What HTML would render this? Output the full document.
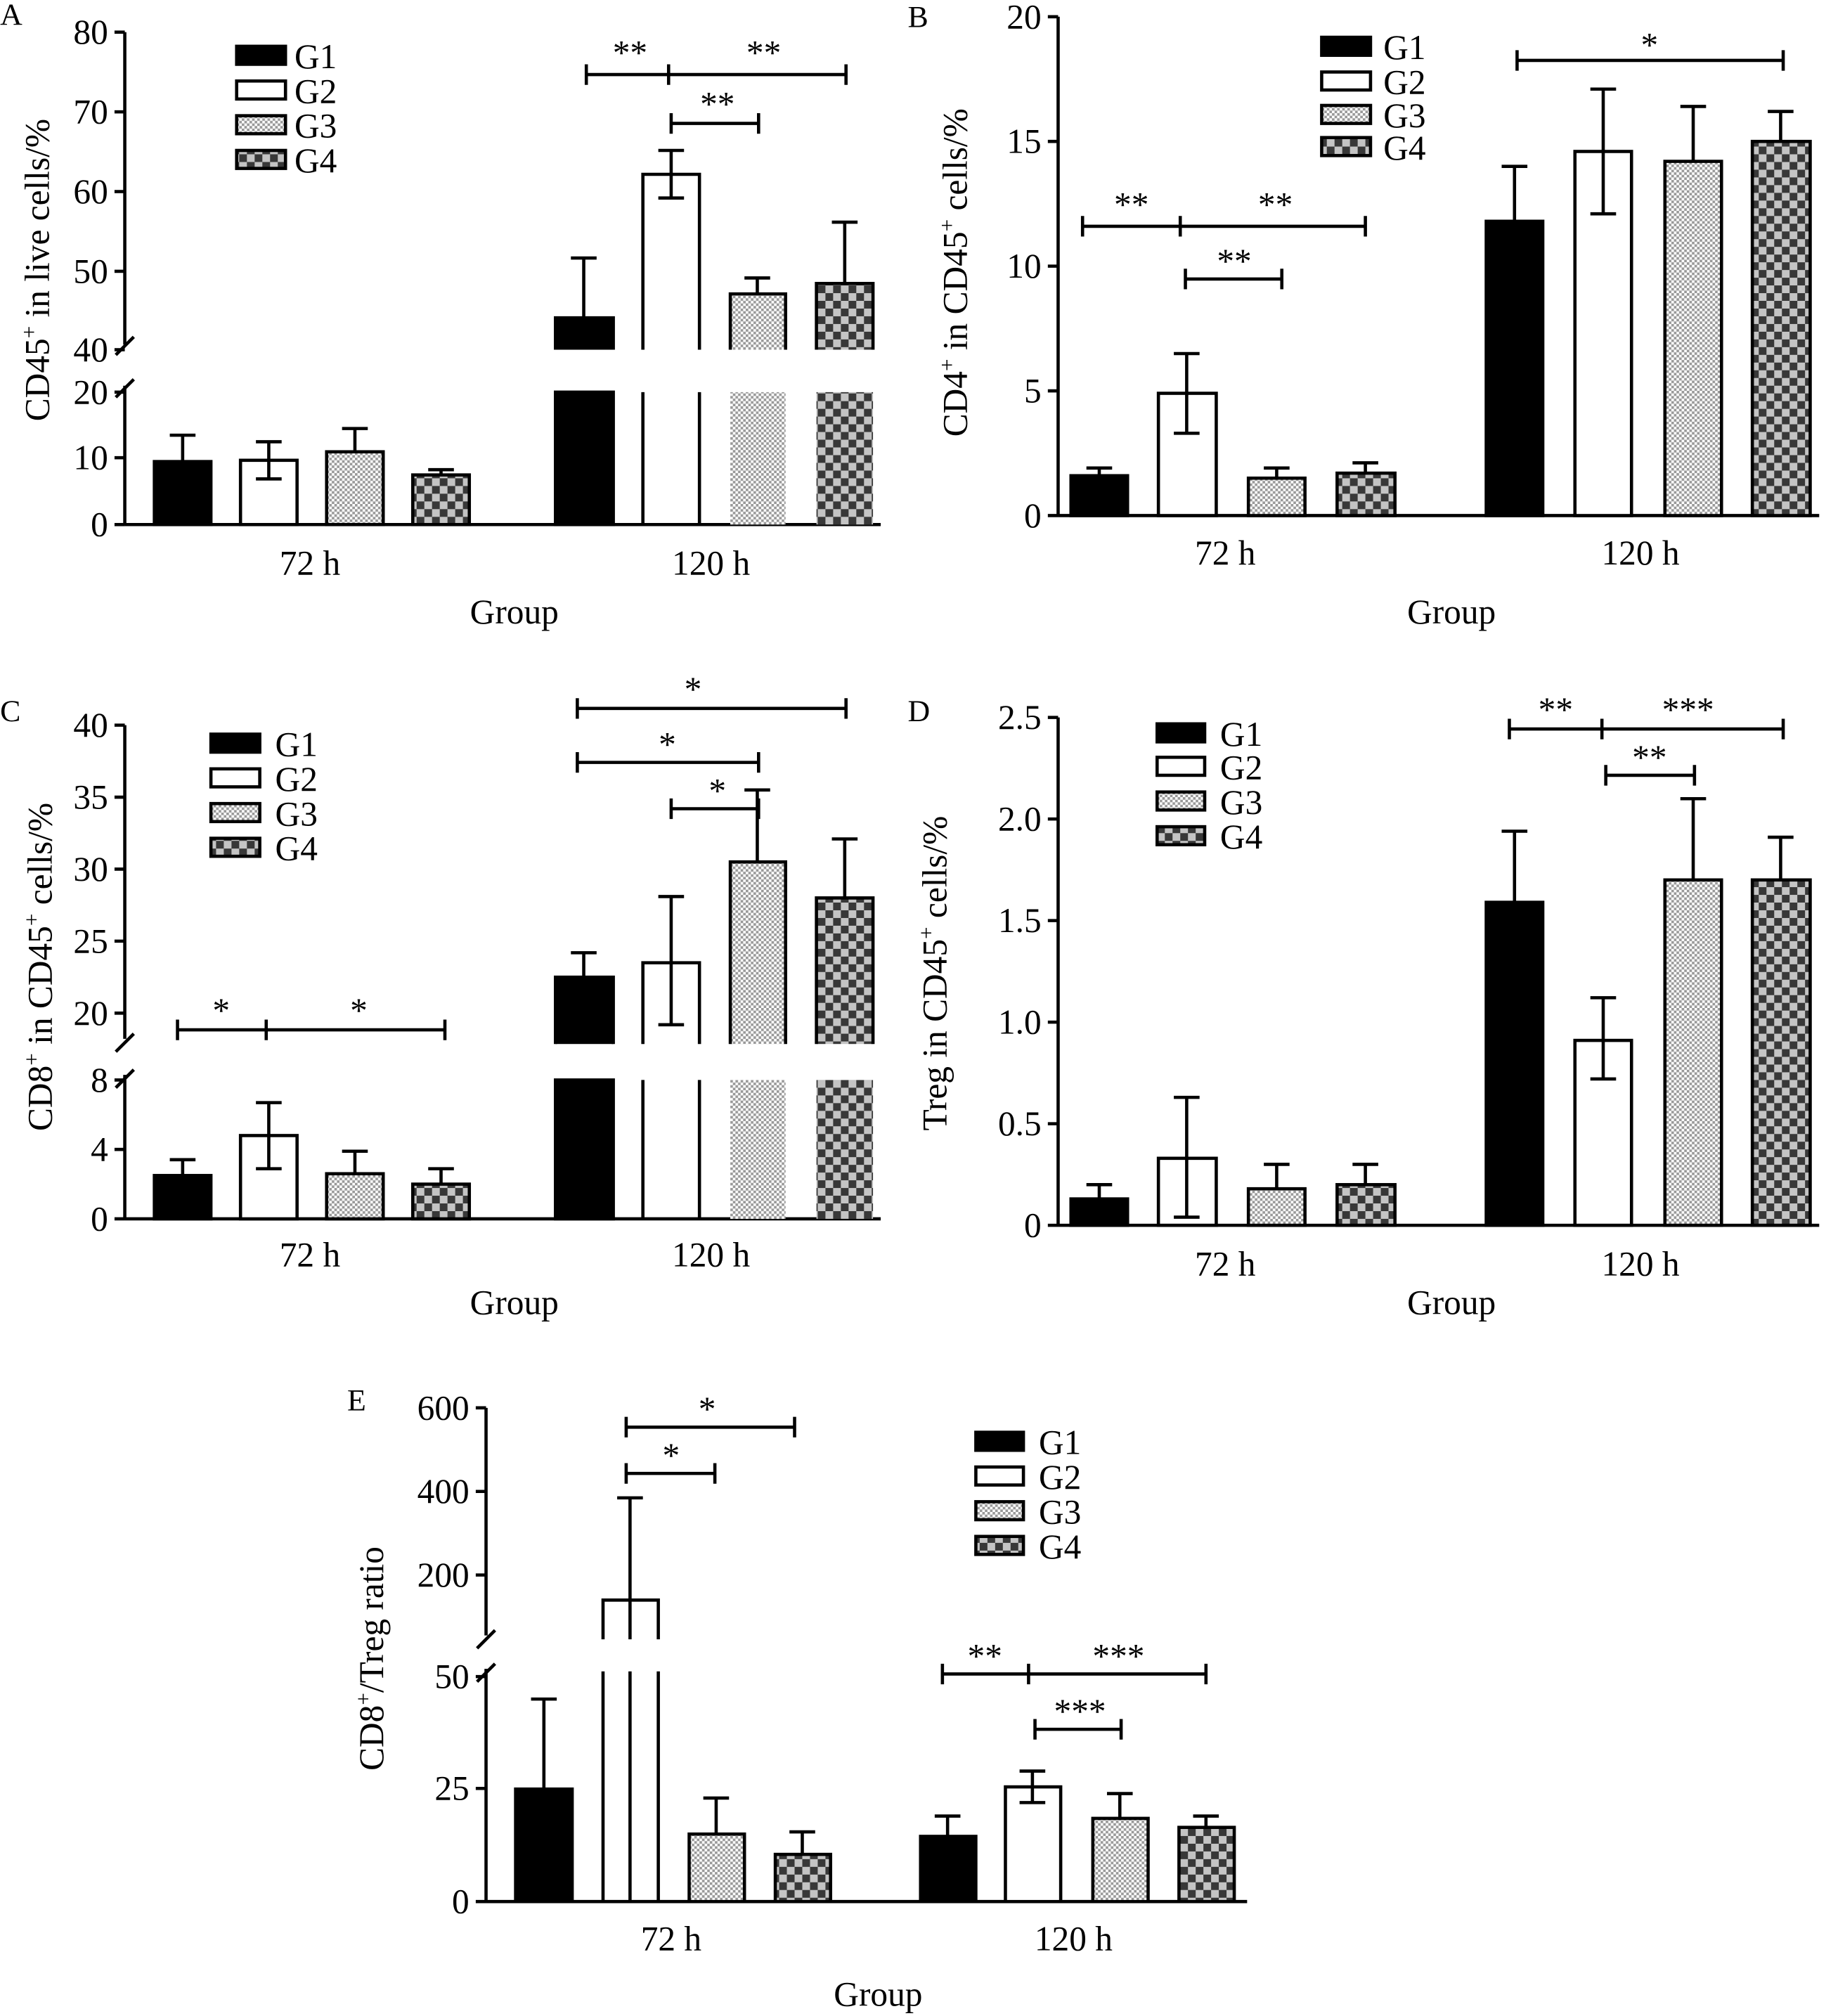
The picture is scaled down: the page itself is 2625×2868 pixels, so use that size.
<!DOCTYPE html>
<html><head><meta charset="utf-8"><style>html,body{margin:0;padding:0;background:#fff}svg{display:block}</style></head>
<body>
<svg width="2625" height="2868" viewBox="0 0 1435 1568" xmlns="http://www.w3.org/2000/svg" font-family="'Liberation Serif',serif" font-size="27">
<defs>
<pattern id="p3" width="4" height="4" patternUnits="userSpaceOnUse"><rect width="4" height="4" fill="#fff"/><rect width="2" height="2" fill="#999"/><rect x="2" y="2" width="2" height="2" fill="#999"/></pattern>
<pattern id="p4" width="12" height="12" patternUnits="userSpaceOnUse"><rect width="12" height="12" fill="#383838"/><rect width="6" height="6" fill="#c4c4c4"/><rect x="6" y="6" width="6" height="6" fill="#c4c4c4"/></pattern>
</defs>
<g stroke="#000" stroke-width="2.5">
<!-- ========== A ========== -->
<line x1="97" y1="25" x2="97" y2="268" fill="none"/><line x1="97" y1="300" x2="97" y2="408"/>
<line x1="90" y1="276" x2="104" y2="262"/><line x1="90" y1="309" x2="104" y2="295"/>
<line x1="97" y1="408" x2="685" y2="408"/>
<g><line x1="89" y1="25" x2="97" y2="25"/><line x1="89" y1="87" x2="97" y2="87"/><line x1="89" y1="149" x2="97" y2="149"/><line x1="89" y1="211" x2="97" y2="211"/><line x1="89" y1="272" x2="97" y2="272"/><line x1="89" y1="305" x2="97" y2="305"/><line x1="89" y1="356" x2="97" y2="356"/><line x1="89" y1="408" x2="97" y2="408"/></g>
<rect x="120" y="359" width="44" height="49" fill="#000"/><line x1="142" y1="359" x2="142" y2="338.5"/><line x1="132" y1="338.5" x2="152" y2="338.5"/>
<rect x="187" y="358" width="44" height="50" fill="#fff"/><line x1="209" y1="372.5" x2="209" y2="343.6"/><line x1="199" y1="343.6" x2="219" y2="343.6"/><line x1="199" y1="372.5" x2="219" y2="372.5"/>
<rect x="254" y="351.4" width="44" height="56.6" fill="url(#p3)"/><line x1="276" y1="351.4" x2="276" y2="333.3"/><line x1="266" y1="333.3" x2="286" y2="333.3"/>
<rect x="321" y="369.4" width="44" height="38.6" fill="url(#p4)"/><line x1="343" y1="369.4" x2="343" y2="365.3"/><line x1="333" y1="365.3" x2="353" y2="365.3"/>
<rect x="432" y="305" width="45" height="103" fill="#000"/><rect x="432" y="247.2" width="45" height="24.8" fill="#000" stroke="none"/><path d="M432 272V247.2H477V272" fill="none"/><line x1="454" y1="247" x2="454" y2="200.7"/><line x1="444" y1="200.7" x2="464" y2="200.7"/>
<line x1="500" y1="305" x2="500" y2="408"/><line x1="544" y1="305" x2="544" y2="408"/>
<path d="M500 272V135.6H544V272" fill="#fff"/><line x1="522" y1="154" x2="522" y2="117"/><line x1="512" y1="117" x2="532" y2="117"/><line x1="512" y1="154" x2="532" y2="154"/>
<rect x="568" y="305" width="43" height="103" fill="url(#p3)" stroke="none"/><rect x="568" y="228.6" width="43" height="43.4" fill="url(#p3)" stroke="none"/><path d="M568 272V228.6H611V272" fill="none"/><line x1="589" y1="228.6" x2="589" y2="216.2"/><line x1="579" y1="216.2" x2="599" y2="216.2"/>
<rect x="635" y="305" width="44" height="103" fill="url(#p4)" stroke="none"/><rect x="635" y="220.5" width="44" height="51.5" fill="url(#p4)" stroke="none"/><path d="M635 272V220.5H679V272" fill="none"/><line x1="657" y1="220.5" x2="657" y2="172.8"/><line x1="647" y1="172.8" x2="667" y2="172.8"/>
<path d="M456 50v16M456 58H520M520 50v16M520 58H658M658 50v16M522 88v16M522 96H590M590 88v16" fill="none"/>
<!-- ========== B ========== -->
<line x1="823" y1="13" x2="823" y2="401"/><line x1="823" y1="401" x2="1415" y2="401"/>
<path d="M815 13H823M815 110H823M815 207H823M815 304H823M815 401H823"/>
<rect x="833" y="370" width="44" height="31" fill="#000"/><line x1="855" y1="370" x2="855" y2="364"/><line x1="845" y1="364" x2="865" y2="364"/>
<rect x="901" y="305.9" width="45" height="95.1" fill="#fff"/><line x1="923" y1="337" x2="923" y2="275"/><line x1="913" y1="275" x2="933" y2="275"/><line x1="913" y1="337" x2="933" y2="337"/>
<rect x="971" y="371.9" width="44" height="29.1" fill="url(#p3)"/><line x1="993" y1="372" x2="993" y2="364"/><line x1="983" y1="364" x2="1003" y2="364"/>
<rect x="1040" y="368" width="45" height="33" fill="url(#p4)"/><line x1="1062" y1="368" x2="1062" y2="360"/><line x1="1052" y1="360" x2="1072" y2="360"/>
<rect x="1156" y="172.1" width="44" height="228.9" fill="#000"/><line x1="1178" y1="172" x2="1178" y2="129.4"/><line x1="1168" y1="129.4" x2="1188" y2="129.4"/>
<rect x="1225" y="117.8" width="44" height="283.2" fill="#fff"/><line x1="1247" y1="166.3" x2="1247" y2="69.3"/><line x1="1237" y1="69.3" x2="1257" y2="69.3"/><line x1="1237" y1="166.3" x2="1257" y2="166.3"/>
<rect x="1295" y="125.5" width="44" height="275.5" fill="url(#p3)"/><line x1="1317" y1="125.5" x2="1317" y2="82.8"/><line x1="1307" y1="82.8" x2="1327" y2="82.8"/>
<rect x="1363" y="110" width="45" height="291" fill="url(#p4)"/><line x1="1385" y1="110" x2="1385" y2="86.7"/><line x1="1375" y1="86.7" x2="1395" y2="86.7"/>
<path d="M842 168v16M842 176H918M918 168v16M918 176H1062M1062 168v16M922 209v16M922 217H997M997 209v16M1180 39v16M1180 47H1387M1387 39v16" fill="none"/>
<!-- ========== C ========== -->
<line x1="97" y1="564" x2="97" y2="808"/><line x1="97" y1="836" x2="97" y2="948"/>
<line x1="90" y1="818" x2="104" y2="804"/><line x1="90" y1="846" x2="104" y2="832"/>
<line x1="97" y1="948" x2="685" y2="948"/>
<path d="M89 564H97M89 620H97M89 676H97M89 732H97M89 788H97M89 840H97M89 894H97M89 948H97"/>
<rect x="120" y="914.3" width="44" height="33.7" fill="#000"/><line x1="142" y1="914" x2="142" y2="902"/><line x1="132" y1="902" x2="152" y2="902"/>
<rect x="187" y="883.2" width="44" height="64.8" fill="#fff"/><line x1="209" y1="909" x2="209" y2="857.6"/><line x1="199" y1="857.6" x2="219" y2="857.6"/><line x1="199" y1="909" x2="219" y2="909"/>
<rect x="254" y="912.9" width="44" height="35.1" fill="url(#p3)"/><line x1="276" y1="913" x2="276" y2="895.4"/><line x1="266" y1="895.4" x2="286" y2="895.4"/>
<rect x="321" y="921" width="44" height="27" fill="url(#p4)"/><line x1="343" y1="921" x2="343" y2="909"/><line x1="333" y1="909" x2="353" y2="909"/>
<rect x="432" y="840" width="45" height="108" fill="#000"/><rect x="432" y="760" width="45" height="52" fill="#000" stroke="none"/><path d="M432 812V760H477V812" fill="none"/><line x1="454" y1="760" x2="454" y2="741"/><line x1="444" y1="741" x2="464" y2="741"/>
<line x1="500" y1="840" x2="500" y2="948"/><line x1="544" y1="840" x2="544" y2="948"/>
<path d="M500 812V748.8H544V812" fill="#fff"/><line x1="522" y1="797" x2="522" y2="697.3"/><line x1="512" y1="697.3" x2="532" y2="697.3"/><line x1="512" y1="797" x2="532" y2="797"/>
<rect x="568" y="840" width="43" height="108" fill="url(#p3)" stroke="none"/><rect x="568" y="670.4" width="43" height="141.6" fill="url(#p3)" stroke="none"/><path d="M568 812V670.4H611V812" fill="none"/><line x1="589" y1="670.4" x2="589" y2="614.4"/><line x1="579" y1="614.4" x2="599" y2="614.4"/>
<rect x="635" y="840" width="44" height="108" fill="url(#p4)" stroke="none"/><rect x="635" y="698.4" width="44" height="113.6" fill="url(#p4)" stroke="none"/><path d="M635 812V698.4H679V812" fill="none"/><line x1="657" y1="698.4" x2="657" y2="652.5"/><line x1="647" y1="652.5" x2="667" y2="652.5"/>
<path d="M138 793v16M138 801H207M207 793v16M207 801H346M346 793v16M449 543v16M449 551H658M658 543v16M449 585v16M449 593H590M590 585v16M522 621v16M522 629H590M590 621v16" fill="none"/>
<!-- ========== D ========== -->
<line x1="823" y1="558" x2="823" y2="953"/><line x1="823" y1="953" x2="1415" y2="953"/>
<path d="M815 558H823M815 637H823M815 716H823M815 795H823M815 874H823M815 953H823"/>
<rect x="833" y="932.5" width="44" height="20.5" fill="#000"/><line x1="855" y1="932.5" x2="855" y2="921.4"/><line x1="845" y1="921.4" x2="865" y2="921.4"/>
<rect x="901" y="900.9" width="45" height="52.1" fill="#fff"/><line x1="923" y1="946.7" x2="923" y2="853.5"/><line x1="913" y1="853.5" x2="933" y2="853.5"/><line x1="913" y1="946.7" x2="933" y2="946.7"/>
<rect x="971" y="924.6" width="44" height="28.4" fill="url(#p3)"/><line x1="993" y1="924.6" x2="993" y2="905.6"/><line x1="983" y1="905.6" x2="1003" y2="905.6"/>
<rect x="1040" y="921.4" width="45" height="31.6" fill="url(#p4)"/><line x1="1062" y1="921.4" x2="1062" y2="905.6"/><line x1="1052" y1="905.6" x2="1072" y2="905.6"/>
<rect x="1156" y="701.8" width="44" height="251.2" fill="#000"/><line x1="1178" y1="701.8" x2="1178" y2="646.5"/><line x1="1168" y1="646.5" x2="1188" y2="646.5"/>
<rect x="1225" y="809.2" width="44" height="143.8" fill="#fff"/><line x1="1247" y1="839.2" x2="1247" y2="776"/><line x1="1237" y1="776" x2="1257" y2="776"/><line x1="1237" y1="839.2" x2="1257" y2="839.2"/>
<rect x="1295" y="684.4" width="44" height="268.6" fill="url(#p3)"/><line x1="1317" y1="684.4" x2="1317" y2="621.2"/><line x1="1307" y1="621.2" x2="1327" y2="621.2"/>
<rect x="1363" y="684.4" width="45" height="268.6" fill="url(#p4)"/><line x1="1385" y1="684.4" x2="1385" y2="651.2"/><line x1="1375" y1="651.2" x2="1395" y2="651.2"/>
<path d="M1174 559v16M1174 567H1246M1246 559v16M1246 567H1387M1387 559v16M1249 595v16M1249 603H1318M1318 595v16" fill="none"/>
<!-- ========== E ========== -->
<line x1="378" y1="1095" x2="378" y2="1272"/><line x1="378" y1="1298" x2="378" y2="1479"/>
<line x1="371" y1="1282" x2="385" y2="1268"/><line x1="371" y1="1308" x2="385" y2="1294"/>
<line x1="378" y1="1479" x2="970" y2="1479"/>
<path d="M370 1095H378M370 1160H378M370 1225H378M370 1304H378M370 1391H378M370 1479H378"/>
<rect x="401" y="1391.5" width="44" height="87.5" fill="#000"/><line x1="423" y1="1391.5" x2="423" y2="1321.5"/><line x1="413" y1="1321.5" x2="433" y2="1321.5"/>
<line x1="469" y1="1300" x2="469" y2="1479"/><line x1="512" y1="1300" x2="512" y2="1479"/><line x1="490" y1="1300" x2="490" y2="1479"/>
<path d="M469 1275V1244.5H512V1275" fill="#fff"/><line x1="490" y1="1275" x2="490" y2="1165"/><line x1="480" y1="1165" x2="500" y2="1165"/>
<rect x="536" y="1426.5" width="43" height="52.5" fill="url(#p3)"/><line x1="557" y1="1426.5" x2="557" y2="1398.5"/><line x1="547" y1="1398.5" x2="567" y2="1398.5"/>
<rect x="603" y="1442.3" width="43" height="36.7" fill="url(#p4)"/><line x1="624" y1="1442.3" x2="624" y2="1424.8"/><line x1="614" y1="1424.8" x2="634" y2="1424.8"/>
<rect x="716" y="1428.3" width="43" height="50.7" fill="#000"/><line x1="737" y1="1428.3" x2="737" y2="1412.5"/><line x1="727" y1="1412.5" x2="747" y2="1412.5"/>
<rect x="782" y="1389.8" width="43" height="89.2" fill="#fff"/><line x1="803" y1="1402" x2="803" y2="1377.5"/><line x1="793" y1="1377.5" x2="813" y2="1377.5"/><line x1="793" y1="1402" x2="813" y2="1402"/>
<rect x="850" y="1414.3" width="43" height="64.7" fill="url(#p3)"/><line x1="871" y1="1414.3" x2="871" y2="1395"/><line x1="861" y1="1395" x2="881" y2="1395"/>
<rect x="917" y="1421.3" width="43" height="57.7" fill="url(#p4)"/><line x1="938" y1="1421.3" x2="938" y2="1412.5"/><line x1="928" y1="1412.5" x2="948" y2="1412.5"/>
<path d="M487 1102v16M487 1110H618M618 1102v16M487 1138v16M487 1146H556M556 1138v16M733 1294v16M733 1302H800M800 1294v16M800 1302H938M938 1294v16M805 1337v16M805 1345H872M872 1337v16" fill="none"/>
<!-- legends -->
<rect x="184" y="36" width="38" height="14" fill="#000"/><rect x="184" y="63" width="38" height="14" fill="#fff"/><rect x="184" y="90" width="38" height="14" fill="url(#p3)"/><rect x="184" y="117" width="38" height="14" fill="url(#p4)"/>
<rect x="1028" y="29" width="38" height="14" fill="#000"/><rect x="1028" y="56" width="38" height="14" fill="#fff"/><rect x="1028" y="82" width="38" height="14" fill="url(#p3)"/><rect x="1028" y="107" width="38" height="14" fill="url(#p4)"/>
<rect x="164" y="571" width="38" height="14" fill="#000"/><rect x="164" y="598" width="38" height="14" fill="#fff"/><rect x="164" y="625" width="38" height="14" fill="url(#p3)"/><rect x="164" y="652" width="38" height="14" fill="url(#p4)"/>
<rect x="900" y="563" width="37" height="14" fill="#000"/><rect x="900" y="589" width="37" height="14" fill="#fff"/><rect x="900" y="616" width="37" height="14" fill="url(#p3)"/><rect x="900" y="643" width="37" height="14" fill="url(#p4)"/>
<rect x="759" y="1114" width="37" height="14" fill="#000"/><rect x="759" y="1141" width="37" height="14" fill="#fff"/><rect x="759" y="1168" width="37" height="14" fill="url(#p3)"/><rect x="759" y="1195" width="37" height="14" fill="url(#p4)"/>
</g>
<g fill="#000">
<text x="0" y="19" font-size="24">A</text><text x="706" y="21" font-size="24">B</text><text x="0" y="561" font-size="24">C</text><text x="706" y="561" font-size="24">D</text><text x="270" y="1097" font-size="24">E</text>
<g text-anchor="end">
<text x="84" y="34">80</text><text x="84" y="96">70</text><text x="84" y="158">60</text><text x="84" y="220">50</text><text x="84" y="281">40</text><text x="84" y="314">20</text><text x="84" y="365">10</text><text x="84" y="417">0</text>
<text x="810" y="22">20</text><text x="810" y="119">15</text><text x="810" y="216">10</text><text x="810" y="313">5</text><text x="810" y="410">0</text>
<text x="84" y="573">40</text><text x="84" y="629">35</text><text x="84" y="685">30</text><text x="84" y="741">25</text><text x="84" y="797">20</text><text x="84" y="849">8</text><text x="84" y="903">4</text><text x="84" y="957">0</text>
<text x="810" y="567">2.5</text><text x="810" y="646">2.0</text><text x="810" y="725">1.5</text><text x="810" y="804">1.0</text><text x="810" y="883">0.5</text><text x="810" y="962">0</text>
<text x="365" y="1104">600</text><text x="365" y="1169">400</text><text x="365" y="1234">200</text><text x="365" y="1313">50</text><text x="365" y="1400">25</text><text x="365" y="1488">0</text>
</g>
<g text-anchor="middle">
<text x="241" y="447">72 h</text><text x="553" y="447">120 h</text><text x="400" y="485">Group</text>
<text x="953" y="439">72 h</text><text x="1276" y="439">120 h</text><text x="1129" y="485">Group</text>
<text x="241" y="985">72 h</text><text x="553" y="985">120 h</text><text x="400" y="1022">Group</text>
<text x="953" y="992">72 h</text><text x="1276" y="992">120 h</text><text x="1129" y="1022">Group</text>
<text x="522" y="1517">72 h</text><text x="835" y="1517">120 h</text><text x="683" y="1560">Group</text>
<text x="490" y="50">**</text><text x="594" y="50">**</text><text x="558" y="90">**</text>
<text x="880" y="168">**</text><text x="992" y="168">**</text><text x="960" y="212">**</text><text x="1283" y="44">*</text>
<text x="172" y="795">*</text><text x="279" y="795">*</text><text x="539" y="545">*</text><text x="519" y="588">*</text><text x="558" y="624">*</text>
<text x="1210" y="561">**</text><text x="1313" y="561">***</text><text x="1283" y="598">**</text>
<text x="550" y="1105">*</text><text x="522" y="1141">*</text><text x="766" y="1297">**</text><text x="870" y="1297">***</text><text x="840" y="1340">***</text>
<text transform="translate(38,210) rotate(-90)">CD45<tspan font-size="17" dy="-10">+</tspan><tspan dy="10"> in live cells/%</tspan></text>
<text transform="translate(752,212) rotate(-90)">CD4<tspan font-size="17" dy="-10">+</tspan><tspan dy="10"> in CD45</tspan><tspan font-size="17" dy="-10">+</tspan><tspan dy="10"> cells/%</tspan></text>
<text transform="translate(40,752) rotate(-90)">CD8<tspan font-size="17" dy="-10">+</tspan><tspan dy="10"> in CD45</tspan><tspan font-size="17" dy="-10">+</tspan><tspan dy="10"> cells/%</tspan></text>
<text transform="translate(736,757) rotate(-90)">Treg in CD45<tspan font-size="17" dy="-10">+</tspan><tspan dy="10"> cells/%</tspan></text>
<text transform="translate(298,1290) rotate(-90)">CD8<tspan font-size="17" dy="-10">+</tspan><tspan dy="10">/Treg ratio</tspan></text>
</g>
<text x="229" y="53">G1</text><text x="229" y="80">G2</text><text x="229" y="107">G3</text><text x="229" y="134">G4</text>
<text x="1076" y="46">G1</text><text x="1076" y="73">G2</text><text x="1076" y="99">G3</text><text x="1076" y="124">G4</text>
<text x="214" y="588">G1</text><text x="214" y="615">G2</text><text x="214" y="642">G3</text><text x="214" y="669">G4</text>
<text x="949" y="580">G1</text><text x="949" y="606">G2</text><text x="949" y="633">G3</text><text x="949" y="660">G4</text>
<text x="808" y="1131">G1</text><text x="808" y="1158">G2</text><text x="808" y="1185">G3</text><text x="808" y="1212">G4</text>
</g>
</svg>
</body></html>
